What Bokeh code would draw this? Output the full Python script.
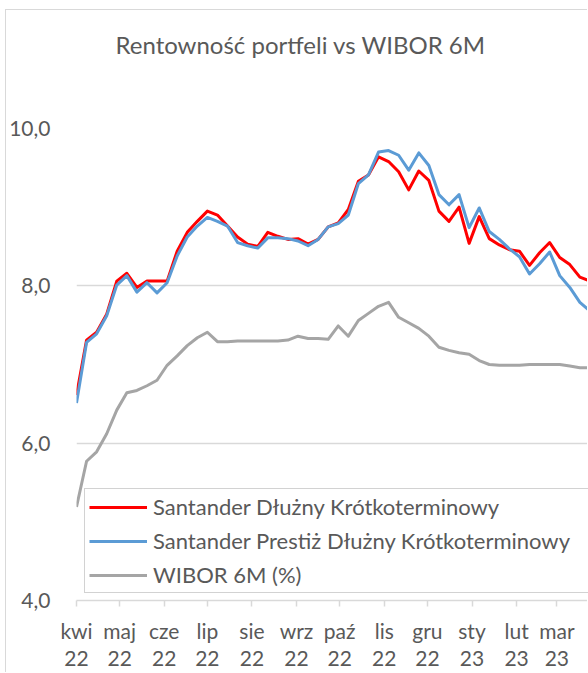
import pandas as pd
from bokeh.plotting import figure
from bokeh.models import Range1d, FixedTicker, Legend, LegendItem, Title
from bokeh.embed import file_html
from bokeh.resources import INLINE

# ---- data -------------------------------------------------------------
dates = pd.date_range("2022-04-01", periods=52, freq="7D")

santander_dk = [6.61, 7.31, 7.41, 7.64, 8.06, 8.16, 7.98, 8.06, 8.06, 8.06,
                8.44, 8.68, 8.82, 8.95, 8.90, 8.76, 8.62, 8.53, 8.50, 8.68,
                8.63, 8.59, 8.60, 8.53, 8.59, 8.75, 8.80, 8.97, 9.33, 9.41,
                9.64, 9.58, 9.45, 9.22, 9.46, 9.34, 8.95, 8.82, 9.00, 8.54,
                8.88, 8.60, 8.52, 8.46, 8.44, 8.26, 8.42, 8.55, 8.36, 8.27,
                8.11, 8.06]

santander_prestiz = [6.51, 7.28, 7.39, 7.62, 8.01, 8.13, 7.92, 8.04, 7.91, 8.04,
                     8.38, 8.62, 8.76, 8.87, 8.82, 8.76, 8.55, 8.51, 8.48, 8.61,
                     8.61, 8.60, 8.57, 8.51, 8.59, 8.75, 8.79, 8.90, 9.30, 9.41,
                     9.70, 9.72, 9.66, 9.47, 9.69, 9.53, 9.16, 9.03, 9.16, 8.74,
                     8.99, 8.69, 8.59, 8.47, 8.37, 8.15, 8.28, 8.43, 8.13, 7.98,
                     7.79, 7.68]

wibor_6m = [5.19, 5.77, 5.89, 6.12, 6.42, 6.64, 6.67, 6.73, 6.80, 6.99,
            7.11, 7.24, 7.34, 7.41, 7.29, 7.29, 7.30, 7.30, 7.30, 7.30,
            7.30, 7.31, 7.36, 7.33, 7.33, 7.32, 7.49, 7.36, 7.56, 7.65,
            7.74, 7.79, 7.60, 7.53, 7.46, 7.36, 7.22, 7.18, 7.15, 7.13,
            7.05, 7.00, 6.99, 6.99, 6.99, 7.00, 7.00, 7.00, 7.00, 6.98,
            6.96, 6.96]

tick_dates = ["2022-04-01", "2022-05-01", "2022-06-01", "2022-07-01",
              "2022-08-01", "2022-09-01", "2022-10-01", "2022-11-01",
              "2022-12-01", "2023-01-01", "2023-02-01", "2023-03-01",
              "2023-04-01"]
tick_labels = ["kwi\n22", "maj\n22", "cze\n22", "lip\n22", "sie\n22",
               "wrz\n22", "paź\n22", "lis\n22", "gru\n22", "sty\n23",
               "lut\n23", "mar\n23", "kwi\n23"]

y_ticks = [4, 6, 8, 10]
y_labels = ["4,0", "6,0", "8,0", "10,0"]

series_names = ["Santander Dłużny Krótkoterminowy",
                "Santander Prestiż Dłużny Krótkoterminowy",
                "WIBOR 6M (%)"]
series_colors = ["#FF0000", "#5B9BD5", "#A5A5A5"]

title_text = "Rentowność portfeli vs WIBOR 6M"


def ms(d):
    return pd.Timestamp(d).value // 10**6


# ---- figure -----------------------------------------------------------
FONT = "Lato"
TXT = "#595959"
GRID = "#D9D9D9"

p = figure(width=582, height=663, x_axis_type="datetime",
           output_backend="svg", toolbar_location=None,
           x_range=Range1d(ms("2022-04-01"), ms("2023-03-23")),
           y_range=Range1d(4, 10),
           min_border_left=69, min_border_right=0,
           min_border_top=118, min_border_bottom=62)

p.styles = {"margin-left": "5px", "margin-top": "9px",
            "border-top": "1px solid #D9D9D9",
            "border-left": "1px solid #D9D9D9"}
p.outline_line_color = None
p.background_fill_color = "white"
p.border_fill_color = "white"

# blank spacer between plot area and title (pushes the title upward)
p.add_layout(Title(text=" ", text_font_size="1px", standoff=62), "above")

p.title.text = title_text
p.title.text_font = FONT
p.title.text_font_size = "24px"
p.title.text_font_style = "normal"
p.title.text_color = TXT
p.title.align = "left"
p.title.offset = 39
p.title.standoff = 10

renderers = []
for vals, col in zip([santander_dk, santander_prestiz, wibor_6m], series_colors):
    r = p.line(dates, vals, line_color=col, line_width=3, line_join="round")
    renderers.append(r)

# x axis
xa = p.xaxis[0]
xa.ticker = FixedTicker(ticks=[ms(d) for d in tick_dates])
xa.major_label_overrides = {ms(d): lab for d, lab in zip(tick_dates, tick_labels)}
xa.minor_tick_line_color = None
xa.axis_line_color = GRID
xa.axis_line_width = 1.5
xa.major_tick_line_color = GRID
xa.major_tick_line_width = 1.5
xa.major_tick_in = 0
xa.major_tick_out = 6
xa.major_label_standoff = 11
xa.major_label_text_font = FONT
xa.major_label_text_font_size = "21px"
xa.major_label_text_color = TXT
xa.major_label_text_line_height = 1.11

# y axis
ya = p.yaxis[0]
ya.ticker = FixedTicker(ticks=y_ticks)
ya.major_label_overrides = {t: l for t, l in zip(y_ticks, y_labels)}
ya.axis_line_color = None
ya.major_tick_line_color = None
ya.minor_tick_line_color = None
ya.major_label_standoff = 20
ya.major_label_text_font = FONT
ya.major_label_text_font_size = "21px"
ya.major_label_text_color = TXT

p.xgrid.grid_line_color = None
p.ygrid.grid_line_color = GRID
p.ygrid.grid_line_width = 1.5

legend = Legend(items=[LegendItem(label=n, renderers=[r])
                       for n, r in zip(series_names, renderers)],
                location=(8, 7))
legend.label_text_font = FONT
legend.label_text_font_size = "22px"
legend.label_text_color = TXT
legend.glyph_width = 58
legend.glyph_height = 20
legend.label_height = 20
legend.label_width = 440
legend.label_standoff = 6
legend.spacing = 7
legend.padding = 4
legend.margin = 0
legend.border_line_color = "#A6A6A6"
legend.border_line_width = 1.5
legend.background_fill_color = "white"
legend.background_fill_alpha = 1
p.add_layout(legend)

open("out.html", "w").write(file_html(p, INLINE))
